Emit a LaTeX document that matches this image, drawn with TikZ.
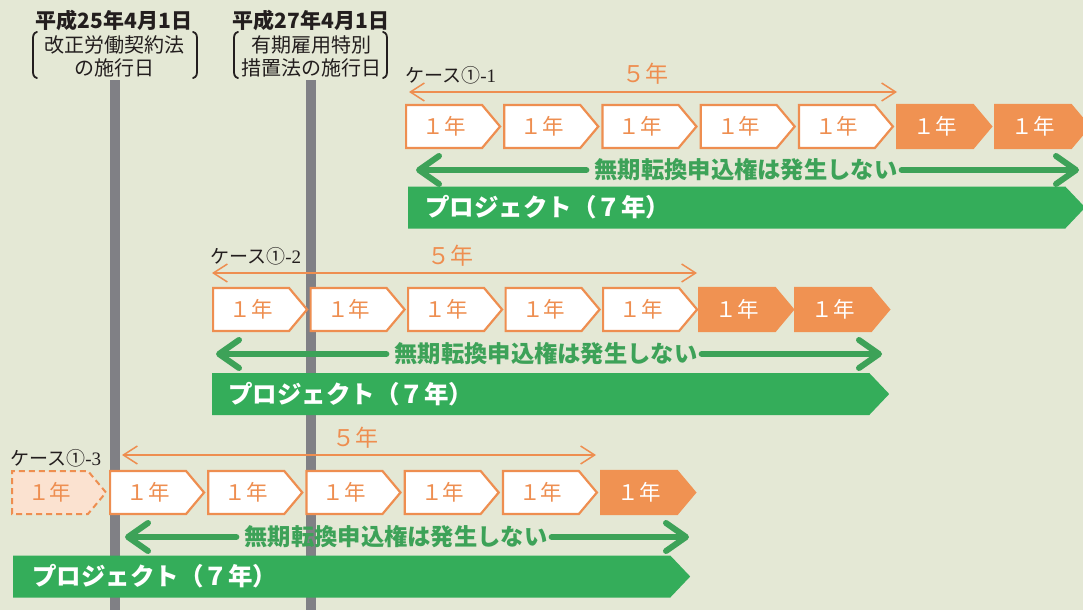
\documentclass[tikz,border=0pt]{standalone}
\usepackage{fontspec}
\setmainfont{Liberation Serif}
\newfontfamily\jp{Noto Sans CJK JP}
\usetikzlibrary{shapes.symbols,arrows.meta}
\definecolor{bg}{RGB}{228,232,213}
\definecolor{orB}{RGB}{238,142,80}
\definecolor{orF}{RGB}{240,146,82}
\definecolor{pale}{RGB}{251,226,208}
\definecolor{gbar}{RGB}{52,173,90}
\definecolor{garr}{RGB}{61,162,88}
\definecolor{grayb}{RGB}{128,128,133}
\definecolor{ink}{RGB}{35,30,30}
\begin{document}
\begin{tikzpicture}[x=1pt,y=-1pt,
  yearbox/.style={signal, signal to=east, signal from=nowhere, signal pointer angle=100,
    minimum width=94pt, minimum height=43pt, inner sep=0pt, draw=orB, line width=2.2pt,
    fill=white, text=orB, font=\jp\fontsize{21.5}{21.5}\selectfont, anchor=west},
  orangebox/.style={yearbox, fill=orF, draw=orF, text=white},
  dashbox/.style={yearbox, fill=pale, dash pattern=on 6pt off 4pt, line width=2pt},
  projbar/.style={signal, signal to=east, signal from=nowhere, signal pointer angle=93,
    minimum width=677pt, minimum height=42pt, inner sep=0pt, fill=gbar, draw=none, anchor=west},
  projtext/.style={anchor=west, text=white, inner sep=0pt, font=\jp\bfseries\fontsize{24.5}{24.5}\selectfont},
  notext/.style={text=garr, inner sep=0pt, font=\jp\bfseries\fontsize{23.3}{23.3}\selectfont},
  garrow/.style={draw=garr, line width=6pt, line cap=round,
    -{Straight Barb[length=20pt,width=28pt,line cap=round,round]}},
  fivearrow/.style={draw=orB, line width=1.5pt,
    {Straight Barb[length=14pt,width=18pt]}-{Straight Barb[length=14pt,width=18pt]}},
  fivetext/.style={text=orB, inner sep=0pt, font=\jp\fontsize{23}{23}\selectfont},
  casetext/.style={anchor=west, text=ink, inner sep=0pt, font=\fontsize{19}{19}\selectfont},
  headbold/.style={text=ink, inner sep=0pt, font=\jp\bfseries\fontsize{21}{21}\selectfont},
  headtext/.style={text=ink, inner sep=0pt, font=\jp\fontsize{20}{20}\selectfont},
  brk/.style={draw=ink, line width=1.8pt, line cap=round}
]
\fill[bg] (0,0) rectangle (1083,610);
\useasboundingbox (0,0) rectangle (1083,610);

% vertical date bars
\fill[grayb] (110,80) rectangle (120,610);
\fill[grayb] (306,80) rectangle (316,610);

% headers
\node[headbold] (h1) at (114,20) {平成25年4月1日};
\node[headtext] (h1a) at (114,45) {改正労働契約法};
\node[headtext] (h1b) at (114,68) {の施行日};
\node[headbold] (h2) at (311,20) {平成27年4月1日};
\node[headtext] (h2a) at (311,45) {有期雇用特別};
\node[headtext] (h2b) at (311,68) {措置法の施行日};
\draw[brk] (37,32) .. controls (33,33) and (33,36) .. (33,40) -- (33,70) .. controls (33,74) and (33,77) .. (37,78);
\draw[brk] (193,32) .. controls (197,33) and (197,36) .. (197,40) -- (197,70) .. controls (197,74) and (197,77) .. (193,78);
\draw[brk] (238,32) .. controls (234,33) and (234,36) .. (234,40) -- (234,70) .. controls (234,74) and (234,77) .. (238,78);
\draw[brk] (383,32) .. controls (387,33) and (387,36) .. (387,40) -- (387,70) .. controls (387,74) and (387,77) .. (383,78);

% ===== Case 1-1 =====
\node[casetext] (c1) at (405,75) {{\jp ケース①}-1};
\node[fivetext] (f1) at (645,74) {５年};
\coordinate (f1l) at (409,92);
\coordinate (f1r) at (897,92);
\draw[fivearrow] (f1l) -- (f1r);
\foreach \i in {1,...,5} \node[yearbox] (a\i) at ({405+(\i-1)*98.2},126.5) {１年};
\node[orangebox] (a6) at (896,126.5) {１年};
\node[orangebox] (a7) at (994,126.5) {１年};
\node[notext] (n1) at (746,170) {無期転換申込権は発生しない};
\coordinate (n1l) at (416,170);
\coordinate (n1r) at (1079,170);
\draw[garrow] ([xshift=-8pt]n1.west) -- (n1l);
\draw[garrow] ([xshift=4pt]n1.east) -- (n1r);
\node[projbar] (p1) at (408,207.5) {};
\node[projtext] (pt1) at (425,207.5) {プロジェクト（７年）};

% ===== Case 1-2 =====
\node[casetext] (c2) at (210,256) {{\jp ケース①}-2};
\node[fivetext] (f2) at (450,256) {５年};
\coordinate (f2l) at (212,273);
\coordinate (f2r) at (697,273);
\draw[fivearrow] (f2l) -- (f2r);
\foreach \i in {1,...,5} \node[yearbox] (b\i) at ({212+(\i-1)*97.5},309.5) {１年};
\node[orangebox] (b6) at (698,309.5) {１年};
\node[orangebox] (b7) at (794,309.5) {１年};
\node[notext] (n2) at (546,354) {無期転換申込権は発生しない};
\coordinate (n2l) at (216,354);
\coordinate (n2r) at (882,354);
\draw[garrow] ([xshift=-8pt]n2.west) -- (n2l);
\draw[garrow] ([xshift=4pt]n2.east) -- (n2r);
\node[projbar] (p2) at (212,394) {};
\node[projtext] (pt2) at (228,394) {プロジェクト（７年）};

% ===== Case 1-3 =====
\node[casetext] (c3) at (10,458) {{\jp ケース①}-3};
\node[fivetext] (f3) at (355,438) {５年};
\coordinate (f3l) at (122,455);
\coordinate (f3r) at (596,455);
\draw[fivearrow] (f3l) -- (f3r);
\node[dashbox] (d0) at (11,492.5) {１年};
\foreach \i in {1,...,5} \node[yearbox] (e\i) at ({109+(\i-1)*98.2},492.5) {１年};
\node[orangebox] (e6) at (600,492.5) {１年};
\node[notext] (n3) at (396,537) {無期転換申込権は発生しない};
\coordinate (n3l) at (125,537);
\coordinate (n3r) at (689,537);
\draw[garrow] ([xshift=-8pt]n3.west) -- (n3l);
\draw[garrow] ([xshift=4pt]n3.east) -- (n3r);
\node[projbar] (p3) at (13,576.5) {};
\node[projtext] (pt3) at (32,576.5) {プロジェクト（７年）};
\end{tikzpicture}
\end{document}
